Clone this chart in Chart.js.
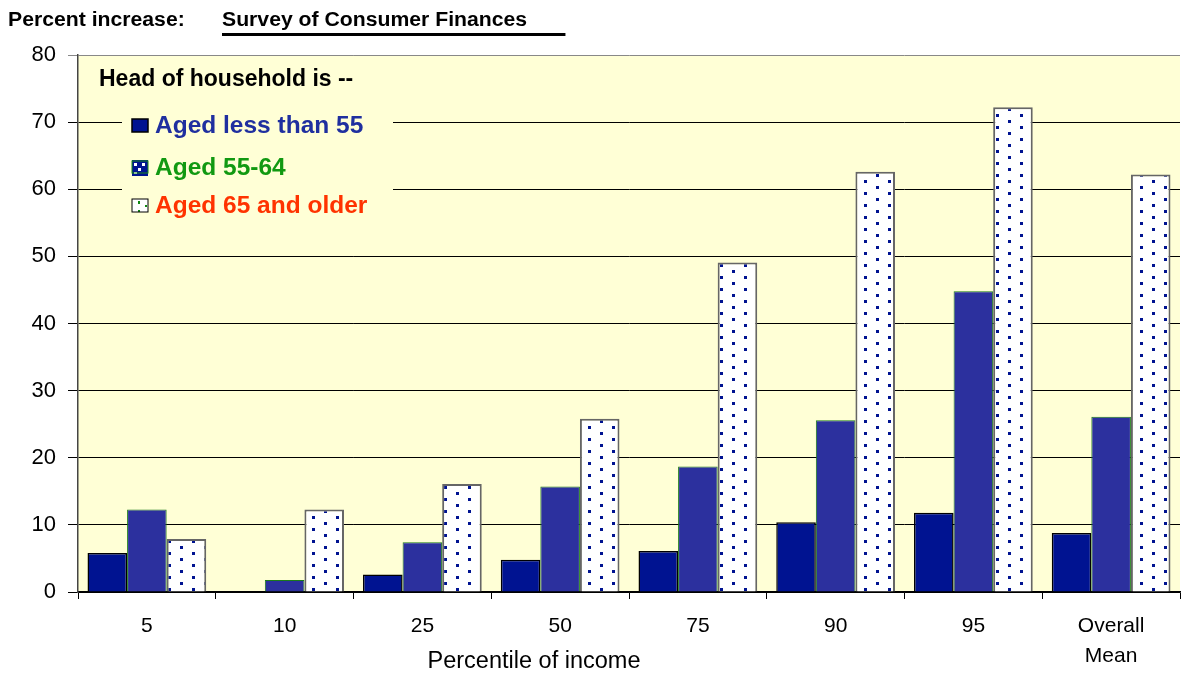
<!DOCTYPE html>
<html>
<head>
<meta charset="utf-8">
<script src="https://cdn.jsdelivr.net/npm/chart.js@4.4.1/dist/chart.umd.min.js"></script>
<style>
  html, body { margin: 0; padding: 0; background: #ffffff; }
  #wrap { position: relative; width: 1185px; height: 680px; }
  #c { position: absolute; left: 0; top: 0; }
  .hdr { position: absolute; font-family: 'Liberation Sans', Arial, sans-serif; font-weight: bold; font-size: 20px; color: #000; white-space: nowrap; line-height: 1; transform-origin: 0 0; transform: scaleX(1.06); }
  #h1 { left: 8px; top: 9px; }
  #h2 { left: 222px; top: 9px; width: 324px; padding-bottom: 4px; border-bottom: 3px solid #000; }
</style>
</head>
<body>
<div id="wrap">
  <canvas id="c" width="1185" height="680"></canvas>
  <div class="hdr" id="h1">Percent increase:</div>
  <div class="hdr" id="h2">Survey of Consumer Finances</div>
</div>
<script>
// ---- data ----
const categories = ['5', '10', '25', '50', '75', '90', '95', ['Overall', 'Mean']];
const seriesLabels = ['Aged less than 55', 'Aged 55-64', 'Aged 65 and older'];
const youngValues = [5.8, 0, 2.6, 4.8, 6.1, 10.4, 11.8, 8.8];
const midValues = [12.3, 1.8, 7.4, 15.7, 18.7, 25.6, 44.8, 26.1];
const oldValues = [7.9, 12.3, 16.1, 25.8, 49.1, 62.6, 72.2, 62.2];
const yMin = 0, yMax = 80, yStep = 10;
const legendTitle = 'Head of household is --';
const xAxisTitle = 'Percentile of income';
const legendTextColors = ['#1f2f9f', '#119911', '#ff3300'];

// ---- styles ----
const FONT = "'Liberation Sans', Arial, sans-serif";
const NAVY = '#001391';
const BLUE = '#2c309e';
const PLOT_BG = '#ffffd6';

function dotPattern(bg, dot, w, h, s) {
  const c = document.createElement('canvas');
  c.width = w; c.height = h;
  const g = c.getContext('2d');
  g.fillStyle = bg; g.fillRect(0, 0, w, h);
  g.fillStyle = dot;
  g.fillRect(0, 0, s, s);
  g.fillRect(w / 2, h / 2, s, s);
  return g.createPattern(c, 'repeat');
}
const mainCtx = document.getElementById('c').getContext('2d');
const oldPattern = dotPattern('#ffffff', NAVY, 24, 12, 3);

const plotBg = {
  id: 'plotBg',
  beforeDraw(chart) {
    const { ctx, chartArea: a } = chart;
    ctx.save();
    ctx.fillStyle = PLOT_BG;
    ctx.fillRect(a.left, a.top, a.right - a.left, a.bottom - a.top);
    ctx.restore();
  }
};

const innerLegend = {
  id: 'innerLegend',
  afterDraw(chart) {
    const { ctx, chartArea: a } = chart;
    const L = a.left, T = a.top;
    ctx.save();
    // cover gridlines behind the legend
    ctx.fillStyle = PLOT_BG;
    ctx.fillRect(L + 44, T + 45, 271, 125);
    // title
    ctx.fillStyle = '#000';
    ctx.font = 'bold 23px ' + FONT;
    ctx.textBaseline = 'alphabetic';
    ctx.textAlign = 'left';
    ctx.fillText(legendTitle, L + 21, T + 31);
    const baselines = [78, 120, 158];
    chart.data.datasets.forEach((ds, i) => {
      const by = T + baselines[i];
      const mx = L + 54, my = by - 14, mw = 16, mh = 13;
      if (i === 0) {
        ctx.fillStyle = NAVY; ctx.fillRect(mx, my, mw, mh);
        ctx.strokeStyle = '#000'; ctx.lineWidth = 1.5; ctx.strokeRect(mx, my, mw, mh);
      } else if (i === 1) {
        ctx.fillStyle = NAVY; ctx.fillRect(mx, my - 1, mw, mh + 3);
        ctx.fillStyle = '#ffffff';
        ctx.fillRect(mx + 2, my + 2, 3, 3); ctx.fillRect(mx + 10, my + 2, 3, 3);
        ctx.fillRect(mx + 6, my + 7, 3, 3); ctx.fillRect(mx + 2, my + 11, 3, 2);
        ctx.strokeStyle = '#1a8a1a'; ctx.lineWidth = 1; ctx.strokeRect(mx, my, mw, mh - 1);
      } else {
        ctx.fillStyle = '#ffffff'; ctx.fillRect(mx, my, mw, mh);
        ctx.fillStyle = '#118811';
        ctx.fillRect(mx + 6, my + 2, 2, 3); ctx.fillRect(mx + 13, my + 6, 2, 2); ctx.fillRect(mx + 6, my + 11, 2, 2);
        ctx.strokeStyle = '#000'; ctx.lineWidth = 1; ctx.strokeRect(mx, my, mw, mh);
      }
      ctx.fillStyle = legendTextColors[i];
      ctx.font = 'bold 24.5px ' + FONT;
      ctx.fillText(ds.label, L + 77, by);
    });
    // x axis title
    ctx.fillStyle = '#000';
    ctx.font = '23.5px ' + FONT;
    ctx.textAlign = 'center';
    ctx.fillText(xAxisTitle, L + 456, a.bottom + 76);
    ctx.restore();
  }
};

new Chart(mainCtx, {
  type: 'bar',
  data: {
    labels: categories,
    datasets: [
      { label: seriesLabels[0], data: youngValues, backgroundColor: NAVY, borderColor: '#000000', borderWidth: 1.5 },
      { label: seriesLabels[1], data: midValues, backgroundColor: BLUE, borderColor: '#1a7a1a', borderWidth: 1 },
      { label: seriesLabels[2], data: oldValues, backgroundColor: oldPattern, borderColor: '#666666', borderWidth: 2 }
    ]
  },
  options: {
    responsive: false,
    animation: false,
    devicePixelRatio: 1,
    layout: { padding: { top: 55, right: 5, left: 0, bottom: 0 } },
    datasets: { bar: { categoryPercentage: 0.862, barPercentage: 1.0 } },
    plugins: { legend: { display: false }, tooltip: { enabled: false }, title: { display: false } },
    scales: {
      x: {
        grid: { offset: true, drawOnChartArea: false, drawTicks: true, tickLength: 7, color: '#000', lineWidth: 1 },
        border: { display: true, color: '#000', width: 1.5 },
        ticks: { color: '#000', font: { family: FONT, size: 21, lineHeight: 1.4 }, padding: 13, maxRotation: 0, autoSkip: false },
        afterFit(s) { s.height = 88; }
      },
      y: {
        min: yMin, max: yMax,
        grid: {
          color: (c) => (c.tick && c.tick.value === yMax ? '#888888' : '#000000'),
          lineWidth: 1, tickLength: 10, drawTicks: true
        },
        border: { display: true, color: '#444', width: 1.5 },
        ticks: { stepSize: yStep, color: '#000', font: { family: FONT, size: 22 }, padding: 12 },
        afterFit(s) { s.width = 78; }
      }
    }
  },
  plugins: [plotBg, innerLegend]
});
</script>
</body>
</html>
